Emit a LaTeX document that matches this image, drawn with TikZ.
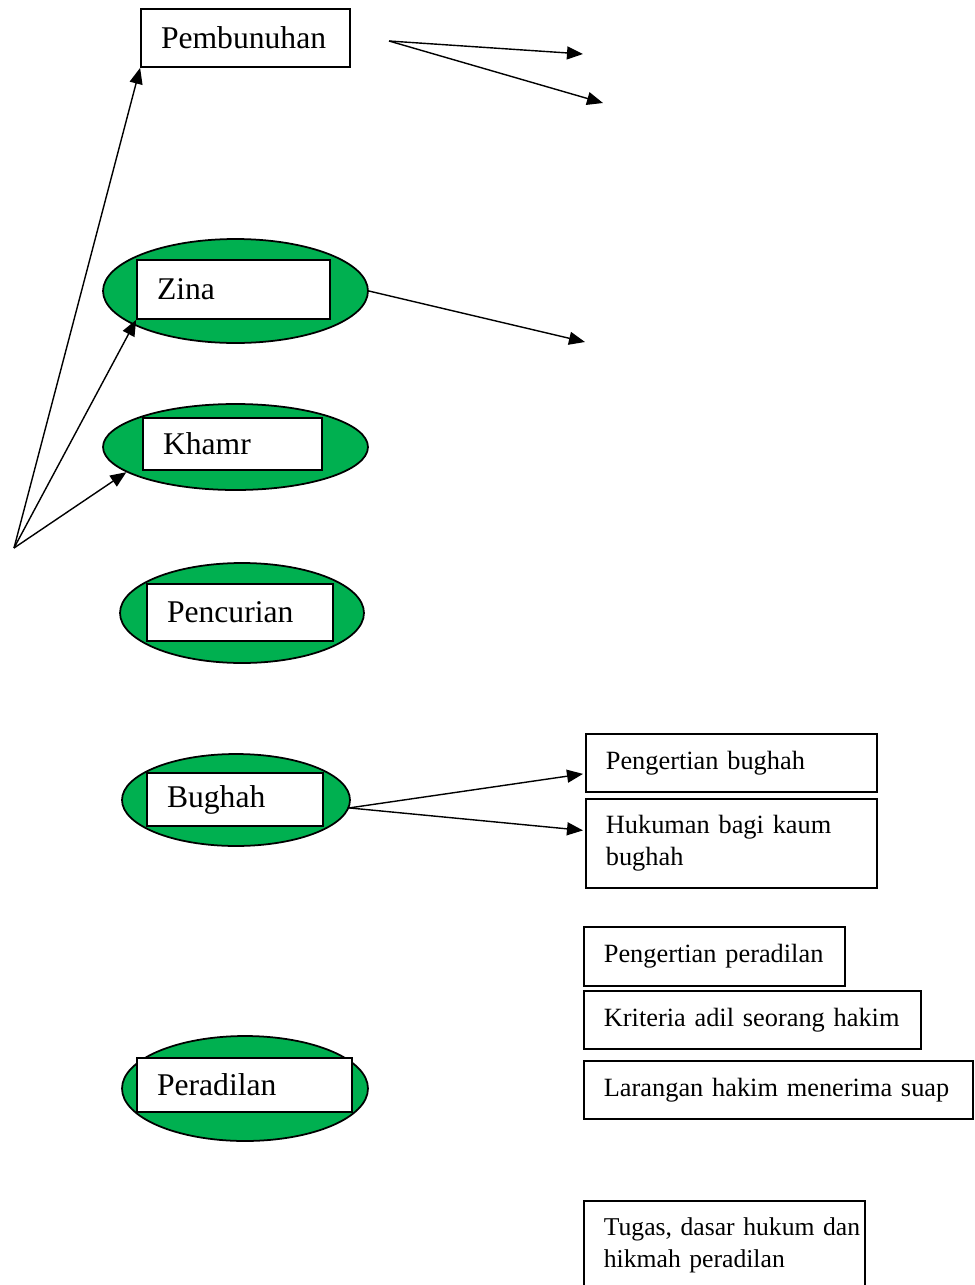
\documentclass[tikz,border=0pt]{standalone}
\usepackage{fontspec}
\setmainfont{Liberation Serif}
\usetikzlibrary{shapes,arrows.meta,positioning,calc}
\definecolor{ovalgreen}{HTML}{00B050}

\begin{document}
\begin{tikzpicture}[x=0.02cm, y=-0.02cm,
        topic/.style={draw, rectangle, fill=white, line width=1pt, inner xsep=0.4cm, inner ysep=0pt, align=left, font=\fontsize{18}{21}\selectfont},
        oval/.style={draw, ellipse, fill=ovalgreen, line width=1pt, inner sep=0pt},
        sub/.style={draw, rectangle, line width=1pt, inner xsep=0.4cm, inner ysep=0pt, align=left, anchor=north west, font=\fontsize{15}{18}\selectfont},
        >={Triangle[length=0.32cm, width=0.26cm]}, line width=0.8pt
    ]
        \useasboundingbox (0,0) rectangle (974,1285);

        % topics
        \node [topic, minimum height=1.16cm, text width=3.38cm] (pemb) at (245.5,38) {Pembunuhan};
        \node [oval, minimum width=5.3cm, minimum height=2.08cm] (zinaOval) at (235.5,291) {};
        \node [topic, minimum height=1.18cm, text width=3.06cm] (zina) at (233.5,289.5) {Zina};
        \node [oval, minimum width=5.3cm, minimum height=1.72cm] (khamrOval) at (235.5,447) {};
        \node [topic, minimum height=1.04cm, text width=2.78cm] (khamr) at (232.5,444) {Khamr};
        \node [oval, minimum width=4.88cm, minimum height=2cm] (curiOval) at (242,613) {};
        \node [topic, minimum height=1.14cm, text width=2.92cm] (curi) at (240,612.5) {Pencurian};
        \node [oval, minimum width=4.56cm, minimum height=1.84cm] (bughahOval) at (236,800) {};
        \node [topic, minimum height=1.06cm, text width=2.72cm] (bughah) at (235,799.5) {Bughah};
        \node [oval, minimum width=4.92cm, minimum height=2.1cm] (adilOval) at (245,1088.5) {};
        \node [topic, minimum height=1.08cm, text width=3.5cm] (adil) at (244.5,1085) {Peradilan};

        % sub topics
        \node [sub, minimum height=1.16cm, text width=5.02cm] (pb) at (585,733) {Pengertian bughah};
        \node [sub, minimum height=1.78cm, text width=5.02cm] (hk) at (585,798) {Hukuman bagi kaum\\bughah};
        \node [sub, minimum height=1.18cm, text width=4.42cm] (pp) at (583,926) {Pengertian peradilan};
        \node [sub, minimum height=1.16cm, text width=5.94cm] (kr) at (583,990) {Kriteria adil seorang hakim};
        \node [sub, minimum height=1.16cm, text width=6.98cm] (lr) at (583,1060) {Larangan hakim menerima suap};
        \node [sub, minimum height=1.78cm, text width=4.82cm, font=\fontsize{14.6}{18}\selectfont] (tg) at (583,1200) {\mbox{Tugas, dasar hukum dan}\\hikmah peradilan};

        % free ends
        \coordinate (root) at (14,548);
        \coordinate (pembOut) at (389,41);
        \coordinate (pembA) at (583,54);
        \coordinate (pembB) at (603,103);
        \coordinate (zinaEnd) at (585,342);

        \draw [->] (root) -- (pemb.south west);
        \draw [->] (root) -- (zina.south west);
        \draw [->] (root) -- (khamrOval.193);
        \draw [->] (pembOut) -- (pembA);
        \draw [->] (pembOut) -- (pembB);
        \draw [->] (zinaOval.east) -- (zinaEnd);
        \draw [->] (bughahOval.-4) -- ($(pb.west)+(-2,11)$);
        \draw [->] (bughahOval.-4) -- ($(hk.west)+(-2,-13)$);
\end{tikzpicture}
\end{document}
